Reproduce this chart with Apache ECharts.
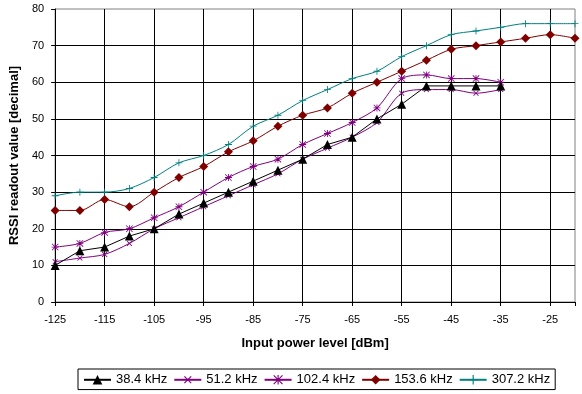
<!DOCTYPE html>
<html><head><meta charset="utf-8">
<script src="https://cdn.jsdelivr.net/npm/echarts@6/dist/echarts.min.js"></script>
<style>html,body{margin:0;padding:0;background:#fff}#c{width:582px;height:394px}</style>
</head><body><div id="c"></div>
<script>
const xValues = [-125,-120,-115,-110,-105,-100,-95,-90,-85,-80,-75,-70,-65,-60,-55,-50,-45,-40,-35,-30,-25,-20];
const seriesNames = ['38.4 kHz','51.2 kHz','102.4 kHz','153.6 kHz','307.2 kHz'];
const s384  = [10,14,15,18,20,24,27,30,33,36,39,43,45,50,54,59,59,59,59];
const s512  = [11,12,13,16,20,23,26,29,32,35,39,42,45,49,57,58,58,57,58];
const s1024 = [15,16,19,20,23,26,30,34,37,39,43,46,49,53,61,62,61,61,60];
const s1536 = [25,25,28,26,30,34,37,41,44,48,51,53,57,60,63,66,69,70,71,72,73,72];
const s3072 = [29,30,30,31,34,38,40,43,48,51,55,58,61,63,67,70,73,74,75,76,76,76];
const xTicks = [-125,-115,-105,-95,-85,-75,-65,-55,-45,-35,-25];

const font = 'Arial, "Liberation Sans", sans-serif';
const plusPath = 'path://M4.4,0H5.6V4.4H10V5.6H5.6V10H4.4V5.6H0V4.4H4.4Z';
const starPath = 'path://M4.4,0H5.6V4.4H10V5.6H5.6V10H4.4V5.6H0V4.4H4.4Z M0,0.8L0.8,0L10,9.2L9.2,10Z M9.2,0L10,0.8L0.8,10L0,9.2Z';

function pairs(arr){ return arr.map((v,i)=>[xValues[i], v]); }

const defs = [
  {data:s384,  color:'#000000', symbol:'triangle', size:9, rotate:0, smooth:false},
  {data:s512,  color:'#800080', symbol:plusPath, size:7, rotate:45, smooth:0.3},
  {data:s1024, color:'#800080', symbol:starPath, size:7, rotate:0, smooth:0.3},
  {data:s1536, color:'#800000', symbol:'diamond', size:9, rotate:0, smooth:0.3},
  {data:s3072, color:'#008080', symbol:plusPath, size:7, rotate:0, smooth:0.3}
];

const chart = echarts.init(document.getElementById('c'), null, {renderer:'canvas'});
chart.setOption({
  animation:false,
  backgroundColor:'#ffffff',
  textStyle:{fontFamily:font},
  grid:{left:48, right:7, top:9, bottom:92, show:true, borderColor:'#808080', borderWidth:1},
  xAxis:{
    type:'value', min:-125, max:-20, interval:10,
    name:'Input power level [dBm]', nameLocation:'middle', nameGap:35,
    nameTextStyle:{fontSize:13, fontWeight:'bold', color:'#000', fontFamily:font},
    axisLine:{lineStyle:{color:'#000', width:1}},
    axisTick:{show:true, inside:false, length:4, lineStyle:{color:'#000'}},
    axisLabel:{fontSize:11, color:'#000', margin:12, fontFamily:font,
      formatter:function(v){ return xTicks.indexOf(v) >= 0 ? String(v) : ''; }},
    splitLine:{show:true, showMaxLine:false, lineStyle:{color:'#000', width:1}}
  },
  yAxis:{
    type:'value', min:0, max:80, interval:10,
    name:'RSSI readout value [decimal]', nameLocation:'middle', nameGap:27,
    nameTextStyle:{fontSize:13, fontWeight:'bold', color:'#000', fontFamily:font},
    axisLine:{show:true, lineStyle:{color:'#000', width:1}},
    axisTick:{show:true, inside:false, length:4, lineStyle:{color:'#000'}},
    axisLabel:{fontSize:11, color:'#000', margin:11, fontFamily:font},
    splitLine:{show:true, showMaxLine:false, lineStyle:{color:'#000', width:1}}
  },
  legend:{
    data:seriesNames, left:78, top:369, orient:'horizontal',
    borderColor:'#000', borderWidth:1, padding:[4,5,3,5],
    itemWidth:27, itemHeight:12, itemGap:6,
    textStyle:{fontSize:13, color:'#000', fontFamily:font}
  },
  series: defs.map((d,i)=>({
    name:seriesNames[i], type:'line', data:pairs(d.data),
    smooth:d.smooth, symbol:d.symbol, symbolSize:d.size, symbolRotate:d.rotate,
    showAllSymbol:true,
    lineStyle:{color:d.color, width:1},
    itemStyle:{color:d.color},
    z: 10-i
  }))
});
</script></body></html>
